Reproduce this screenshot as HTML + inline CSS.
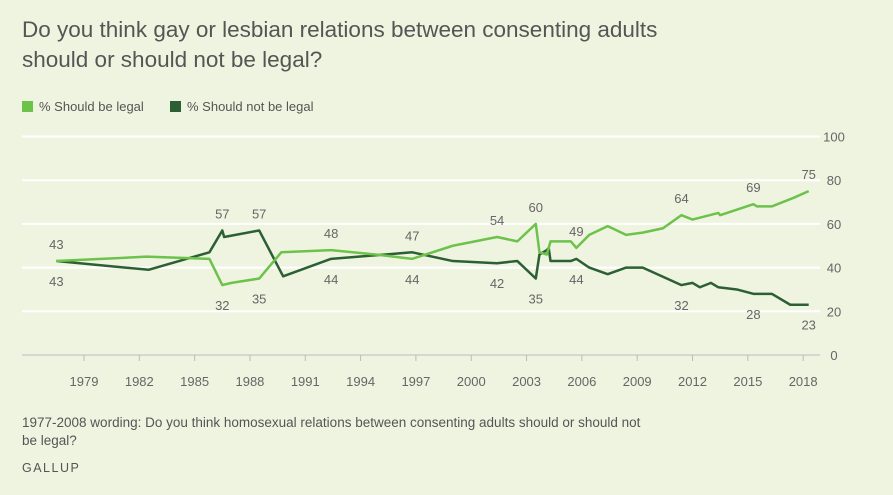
<!DOCTYPE html>
<html><head><meta charset="utf-8">
<style>
body{margin:0;width:893px;height:495px;background:#eff4e0;font-family:"Liberation Sans",sans-serif;overflow:hidden;position:relative}
.t{position:absolute;left:22px;top:15px;font-size:22.5px;line-height:30px;color:#555}
.lg{position:absolute;top:99px;font-size:13px;color:#555}
.sw{display:inline-block;width:11px;height:11px;margin-right:6px;vertical-align:-1px}
.fn{position:absolute;left:22px;top:414px;font-size:13.5px;line-height:18px;color:#555;width:645px}
.g{position:absolute;left:22px;top:461px;font-size:12.5px;letter-spacing:1.5px;color:#555}
</style></head><body>
<div class="t">Do you think gay or lesbian relations between consenting adults<br>should or should not be legal?</div>
<div class="lg" style="left:22px"><span class="sw" style="background:#6cc24a"></span>% Should be legal</div>
<div class="lg" style="left:170px"><span class="sw" style="background:#2c5f34"></span>% Should not be legal</div>
<svg id="c" width="893" height="495" style="position:absolute;left:0;top:0"></svg>
<div class="fn">1977-2008 wording: Do you think homosexual relations between consenting adults should or should not<br>be legal?</div>
<div class="g">GALLUP</div>
<script>
const legalYears=[1977.5,1982.4,1985.8,1986.5,1987,1988.5,1989.7,1992.4,1994.8,1996.8,1999,2001.4,2002.5,2003.5,2003.7,2004.1,2004.3,2005.4,2005.7,2006.4,2007.4,2008.4,2009.3,2010.4,2011.4,2012,2013.4,2013.5,2015.3,2015.5,2016.3,2017.5,2018.3];
const legalVals=[43,45,44,32,33,35,47,48,46,44,50,54,52,60,47,46,52,52,49,55,59,55,56,58,64,62,65,64,69,68,68,72,75];
const notYears=[1977.5,1982.5,1985.8,1986.5,1986.6,1988.5,1989.8,1992.4,1996.8,1999,2001.4,2002.5,2003.5,2003.7,2004.1,2004.2,2004.3,2005.4,2005.7,2006.4,2007.4,2008.4,2009.3,2011.4,2012,2012.4,2013,2013.4,2014.4,2015.3,2016.3,2017.3,2018.3];
const notVals=[43,39,47,57,54,57,36,44,47,43,42,43,35,46,48,49,43,43,44,40,37,40,40,32,33,31,33,31,30,28,28,23,23];
const legalLabels=[[0,'above'],[3,'below'],[5,'below'],[7,'above'],[9,'below'],[11,'above'],[13,'above'],[18,'above'],[24,'above'],[28,'above'],[32,'above']];
const notLabels=[[0,'below'],[3,'above'],[5,'above'],[7,'below'],[8,'above'],[10,'below'],[12,'below'],[18,'below'],[23,'below'],[29,'below'],[32,'below']];
const yTicks=[0,20,40,60,80,100];
const xTicks=[1979,1982,1985,1988,1991,1994,1997,2000,2003,2006,2009,2012,2015,2018];
const X=y=>84+(y-1979)*18.44, Y=v=>355-v*2.185;
const s=document.getElementById('c'),NS='http://www.w3.org/2000/svg';
function mk(t,a,txt){const e=document.createElementNS(NS,t);for(const k in a)e.setAttribute(k,a[k]);if(txt!=null)e.textContent=txt;s.appendChild(e);return e;}
yTicks.forEach(v=>{
 if(v>0){const l=mk('line',{x1:22,x2:820,y1:Y(v),y2:Y(v),stroke:'#fff','stroke-width':2});
 
 }
 const t=mk('text',{x:834,y:Y(v)+5,'text-anchor':'middle','font-size':13,fill:'#666'},v);
 
 
});
mk('line',{x1:22,x2:820,y1:355,y2:355,stroke:'#bbb','stroke-width':1});
xTicks.forEach(y=>{
 mk('line',{x1:X(y),x2:X(y),y1:355,y2:361,stroke:'#bbb'});
 const t=mk('text',{x:X(y),y:386,'text-anchor':'middle','font-size':13,fill:'#666'},y);
 
 
});
function series(ys,vs,col,name,labels){
 const p=mk('polyline',{points:ys.map((y,i)=>X(y)+','+Y(vs[i])).join(' '),fill:'none',stroke:col,'stroke-width':2.5,'stroke-linejoin':'round'});
 
 
 labels.forEach(([i,pos])=>{
  const t=mk('text',{x:X(ys[i]),y:pos=='above'?Y(vs[i])-12:Y(vs[i])+25,'text-anchor':'middle','font-size':13,fill:'#666'},vs[i]);
  
  
 });
}
series(notYears,notVals,'#2c5f34','line-should-not-be-legal',notLabels);
series(legalYears,legalVals,'#6cc24a','line-should-be-legal',legalLabels);
</script>
</body></html>
